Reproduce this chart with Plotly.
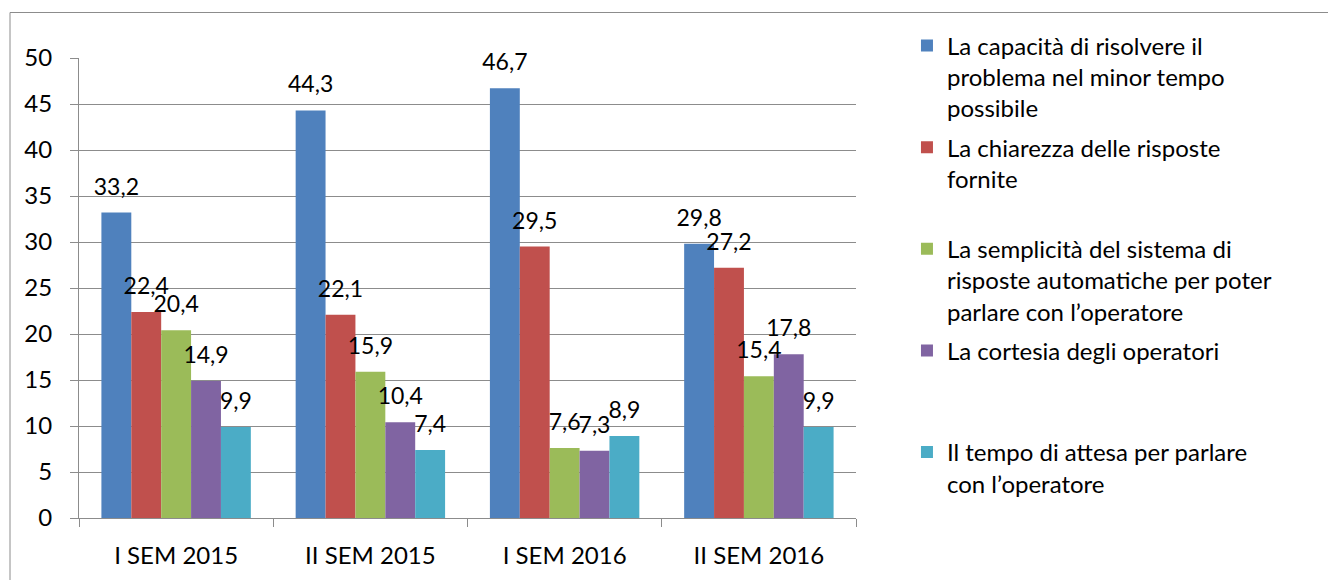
import plotly.graph_objects as go

# Semesters and satisfaction drivers (percent of respondents)
categories = ["I SEM 2015", "II SEM 2015", "I SEM 2016", "II SEM 2016"]

series_names = [
    "La capacità di risolvere il<br>problema nel minor tempo<br>possibile",
    "La chiarezza delle risposte<br>fornite<br> ",
    "La semplicità del sistema di<br>risposte automatiche per poter<br>parlare con l’operatore",
    "La cortesia degli operatori<br> <br> ",
    "Il tempo di attesa per parlare<br>con l’operatore",
]

capacita = [33.2, 44.3, 46.7, 29.8]
chiarezza = [22.4, 22.1, 29.5, 27.2]
semplicita = [20.4, 15.9, 7.6, 15.4]
cortesia = [14.9, 10.4, 7.3, 17.8]
attesa = [9.9, 7.4, 8.9, 9.9]

series_values = [capacita, chiarezza, semplicita, cortesia, attesa]
colors = ["#4F81BD", "#C0504D", "#9BBB59", "#8064A2", "#4BACC6"]

FONT = "Lato"
GRID = "#8c8c8c"
GAP = 1.5 / 6.5

fig = go.Figure()

for i, (name, vals, col) in enumerate(zip(series_names, series_values, colors)):
    fig.add_trace(go.Bar(
        x=categories, y=vals, name=name,
        marker=dict(color=col, line=dict(width=0)),
        legendgroup=f"g{i}",
        hoverinfo="x+y",
    ))

# Value labels, grouped side by side in the same slots as the bars
for i, vals in enumerate(series_values):
    fig.add_trace(go.Scatter(
        x=categories, y=vals,
        mode="markers+text",
        marker=dict(size=18, color="rgba(0,0,0,0)"),
        texttemplate="%{y:.1f}",
        textposition="top center",
        textfont=dict(family=FONT, size=23, color="#000000"),
        cliponaxis=False,
        showlegend=False,
        hoverinfo="skip",
    ))

fig.update_layout(
    width=1328, height=580,
    margin=dict(l=79, r=472, t=58, b=62),
    paper_bgcolor="white", plot_bgcolor="white",
    barmode="group", bargap=GAP, bargroupgap=0,
    scattermode="group", scattergap=GAP,
    separators=",.",
    font=dict(family=FONT, size=24, color="#000000"),
    showlegend=True,
    legend=dict(
        x=1.0656, xanchor="left", y=1.075, yanchor="top",
        font=dict(family=FONT, size=24, color="#000000"),
        valign="top", traceorder="grouped", tracegroupgap=5,
        bgcolor="rgba(0,0,0,0)",
        maxheight=560,
    ),
    xaxis=dict(
        type="category",
        showline=True, linecolor=GRID, linewidth=1,
        ticks="outside", tickson="boundaries", ticklen=8, tickcolor=GRID,
        ticklabelstandoff=16,
        showgrid=False,
        tickfont=dict(family=FONT, size=24),
    ),
    yaxis=dict(
        range=[0, 50], dtick=5, tick0=0,
        showline=True, linecolor=GRID, linewidth=1,
        ticks="outside", ticklen=8, tickcolor=GRID,
        ticklabelstandoff=13,
        showgrid=True, gridcolor=GRID, gridwidth=1,
        zeroline=False,
        tickfont=dict(family=FONT, size=24),
    ),
    shapes=[dict(
        type="rect", xref="paper", yref="paper",
        x0=-0.0888, x1=2.0, y0=-1.0, y1=1.0989,
        line=dict(color=GRID, width=1), fillcolor="rgba(0,0,0,0)",
        layer="below",
    )],
)

fig.write_html("out.html")
